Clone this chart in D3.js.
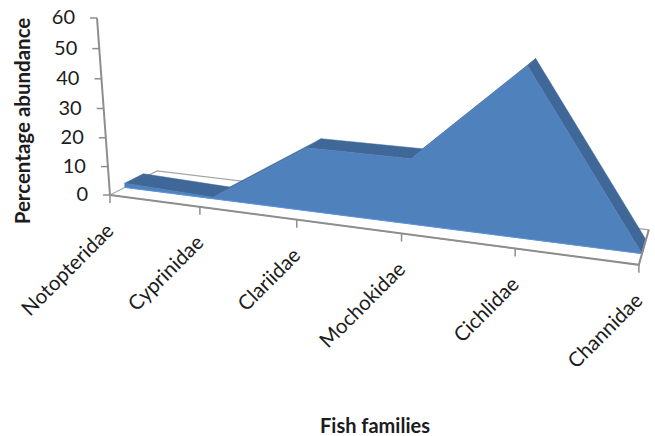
<!DOCTYPE html>
<html>
<head>
<meta charset="utf-8">
<script src="https://cdn.jsdelivr.net/npm/d3@7"></script>
<style>
  html, body { margin: 0; padding: 0; background: #fff; }
  svg { display: block; }
  text { font-family: Lato, "Open Sans", sans-serif; fill: #1c1c1c; }
</style>
</head>
<body>
<svg id="chart" width="655" height="436"></svg>
<script>
// Fish family abundance, drawn as a single-series 3-D area in perspective.
const categories = ["Notopteridae", "Cyprinidae", "Clariidae", "Mochokidae", "Cichlidae", "Channidae"];
const abundance = [1.5, 0.5, 21, 21, 52, 0];
const valueTicks = [0, 10, 20, 30, 40, 50, 60];
const xTitle = "Fish families";
const yTitle = "Percentage abundance";

const svg = d3.select("#chart");

// Normalised chart-space scales: u runs along the categories, v up the value axis.
const uScale = d3.scalePoint().domain(categories).range([0, 1]);
const vScale = d3.scaleLinear().domain([0, 60]).range([0, 1]);

// Perspective camera: origin corner plus a vanishing point and weight per axis.
const origin = [110, 195];
const axesVP = {
  u: { vp: [-2283, -121], c: -0.181 },
  v: { vp: [390, 4014], c: -0.0443 },
  d: { vp: [752, -133], c: 0.079 }
};
function project(u, v, d) {
  const w = 1 + axesVP.u.c * u + axesVP.v.c * v + axesVP.d.c * d;
  const coord = i => (origin[i]
    + axesVP.u.c * u * axesVP.u.vp[i]
    + axesVP.v.c * v * axesVP.v.vp[i]
    + axesVP.d.c * d * axesVP.d.vp[i]) / w;
  return [coord(0), coord(1)];
}

const depthFront = 0.3, depthBack = 0.7;
const line = d3.line();
const closed = pts => line(pts) + "Z";

// Floor outline behind the area
const floorGrey = "#8e8e8e";
svg.append("path")
  .attr("d", closed([project(0, 0, 0), project(0, 0, 1), project(1, 0, 1), project(1, 0, 0)]))
  .attr("fill", "#fff").attr("stroke", "#a6a6a6").attr("stroke-width", 1.2);

// Top and back-slope faces, one per segment
const front = categories.map((c, i) => project(uScale(c), vScale(abundance[i]), depthFront));
const back = categories.map((c, i) => project(uScale(c), vScale(abundance[i]), depthBack));
svg.append("g").selectAll("path")
  .data(d3.range(categories.length - 1))
  .join("path")
  .attr("d", i => closed([front[i], back[i], back[i + 1], front[i + 1]]))
  .attr("fill", "#3f6797")
  .attr("stroke", "#3f6797").attr("stroke-width", 0.5);

// Front face of the area
const baseFront = categories.map(c => project(uScale(c), 0, depthFront));
svg.append("path")
  .attr("d", closed(front.concat(baseFront.slice().reverse())))
  .attr("fill", "#4f81bd")
  .attr("stroke", "#4f81bd").attr("stroke-width", 0.5);
// Lit lower rim of the front face
svg.append("path")
  .attr("d", line(baseFront))
  .attr("fill", "none").attr("stroke", "#5b93d8").attr("stroke-width", 1);

// Front axis lines
const axisWidth = 2;
svg.append("path")
  .attr("d", line([project(0, 0, 0), project(1, 0, 0), project(1, 0, 1)]))
  .attr("fill", "none").attr("stroke", floorGrey).attr("stroke-width", axisWidth);
svg.append("path")
  .attr("d", line([project(0, 0, 0), project(0, 1, 0)]))
  .attr("fill", "none").attr("stroke", floorGrey).attr("stroke-width", axisWidth);

// Value axis ticks and labels
const vt = svg.append("g").selectAll("g").data(valueTicks).join("g");
vt.append("line")
  .attr("x1", d => project(0, vScale(d), 0)[0] - 7)
  .attr("x2", d => project(0, vScale(d), 0)[0])
  .attr("y1", d => project(0, vScale(d), 0)[1])
  .attr("y2", d => project(0, vScale(d), 0)[1])
  .attr("stroke", floorGrey).attr("stroke-width", 1.5);
vt.append("text")
  .attr("x", d => project(0, vScale(d), 0)[0] - 22)
  .attr("y", d => project(0, vScale(d), 0)[1] + 1)
  .attr("text-anchor", "end").attr("dominant-baseline", "middle")
  .attr("font-size", 20)
  .text(d => d);

// Category ticks and rotated labels
const ct = svg.append("g").selectAll("g").data(categories).join("g");
ct.append("line")
  .attr("x1", c => project(uScale(c), 0, 0)[0])
  .attr("x2", c => project(uScale(c), 0, 0)[0])
  .attr("y1", c => project(uScale(c), 0, 0)[1])
  .attr("y2", c => project(uScale(c), 0, 0)[1] + 8)
  .attr("stroke", floorGrey).attr("stroke-width", 1.5);
ct.append("text")
  .attr("transform", c => {
    const [x, y] = project(uScale(c), 0, 0);
    return `translate(${x + 5},${y + 37}) rotate(-45)`;
  })
  .attr("text-anchor", "end")
  .attr("font-size", 20.5)
  .text(c => c);

// Axis titles
svg.append("text")
  .attr("transform", "translate(30,121) rotate(-90)")
  .attr("text-anchor", "middle")
  .attr("font-size", 20.5).attr("font-weight", 700)
  .text(yTitle);
svg.append("text")
  .attr("x", 375).attr("y", 433)
  .attr("text-anchor", "middle")
  .attr("font-size", 20).attr("font-weight", 700)
  .text(xTitle);
</script>
</body>
</html>
